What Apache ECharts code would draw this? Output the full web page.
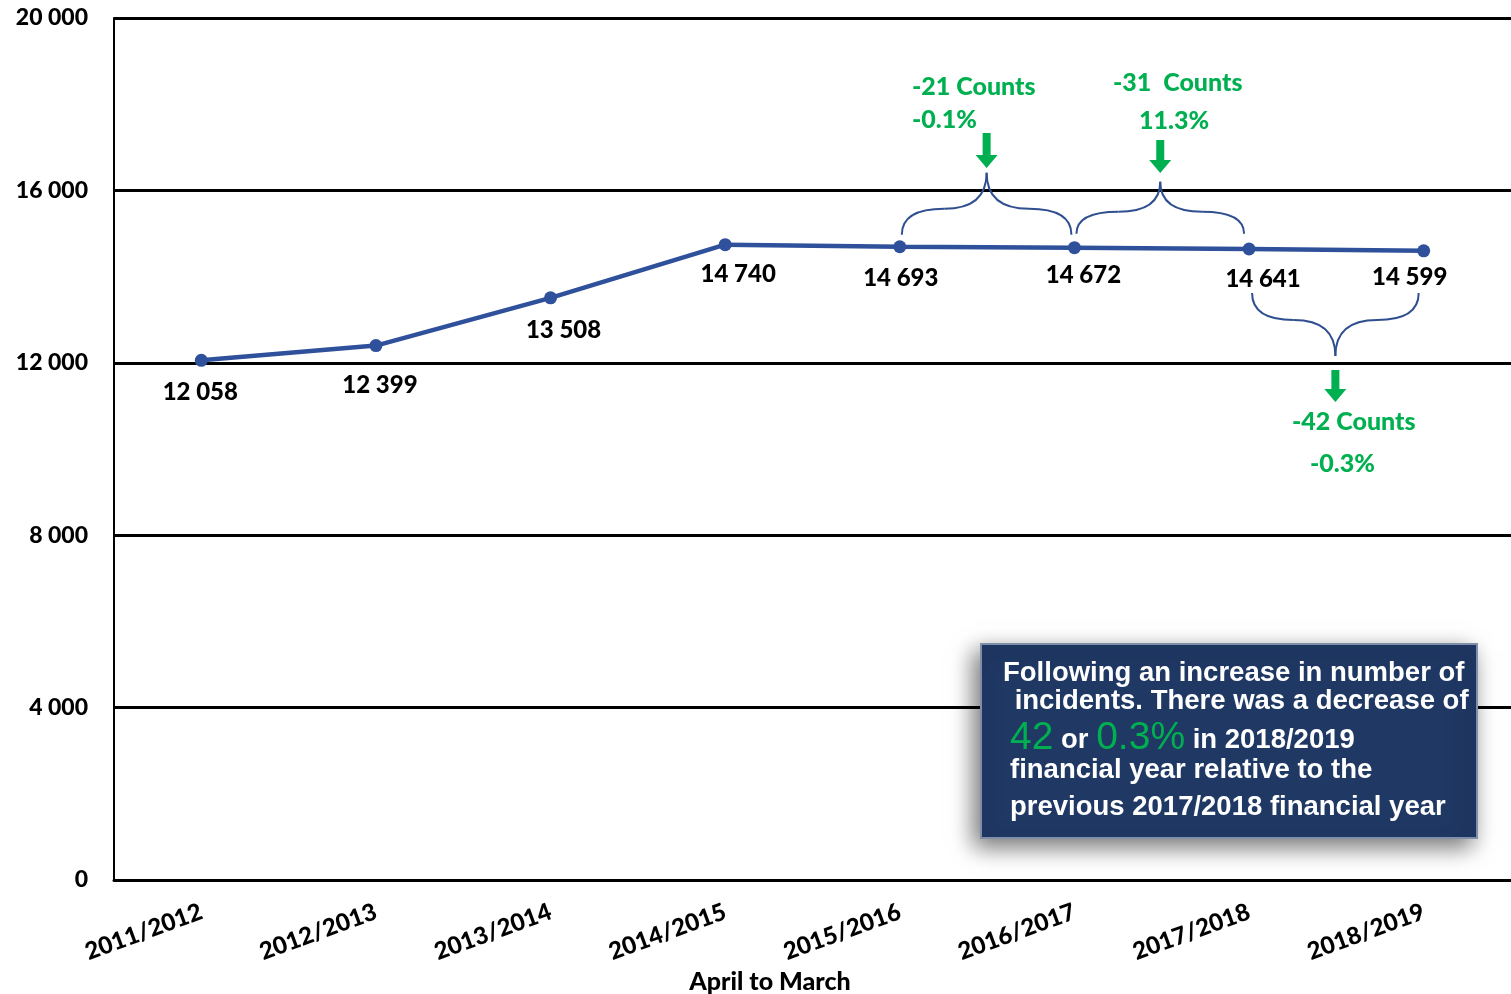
<!DOCTYPE html>
<html><head><meta charset="utf-8">
<script src="https://cdn.jsdelivr.net/npm/echarts@6/dist/echarts.min.js"></script>
<style>html,body{margin:0;padding:0;background:#fff}#c{width:1511px;height:994px}</style>
</head><body><div id="c"></div>
<script>
const categories = ['2011/2012','2012/2013','2013/2014','2014/2015','2015/2016','2016/2017','2017/2018','2018/2019'];
const incidents = [12058, 12399, 13508, 14740, 14693, 14672, 14641, 14599];
const yTicks = { min: 0, max: 20000, interval: 4000 };
const changeNotes = [
  { from: 4, to: 5, counts: '-21 Counts', pct: '-0.1%' },
  { from: 5, to: 6, counts: '-31  Counts', pct: '11.3%' },
  { from: 6, to: 7, counts: '-42 Counts', pct: '-0.3%' }
];
const calloutLines = [
  'Following an increase in number of',
  ' incidents. There was a decrease of',
  ['42', ' or ', '0.3%', ' in 2018/2019'],
  'financial year relative to the',
  'previous 2017/2018 financial year'
];
const xAxisTitle = 'April to March';

const fmt = v => String(v).replace(/\B(?=(\d{3})+(?!\d))/g, ' ');
const labelOffsets = [[-1,32],[4,40],[13,32],[13,30],[1,32],[9,28],[14,30],[-14,26]];
const LINE = '#2F509B', GREEN = '#00B050', FONT = 'Lato', FW = 900;
const CF = 'Liberation Sans';

const chart = echarts.init(document.getElementById('c'));
chart.setOption({
  animation: false,
  grid: { left: 114, right: 0, top: 18, bottom: 114, containLabel: false },
  xAxis: {
    type: 'category', data: categories, boundaryGap: true,
    axisLine: { lineStyle: { color: '#000', width: 3 } },
    axisTick: { show: false },
    axisLabel: { rotate: 20, margin: 31, color: '#000', fontFamily: FONT, fontWeight: FW, fontSize: 24 }
  },
  yAxis: {
    type: 'value', min: yTicks.min, max: yTicks.max, interval: yTicks.interval,
    axisLine: { show: true, lineStyle: { color: '#000', width: 2 } },
    axisTick: { show: false },
    splitLine: { lineStyle: { color: '#000', width: 3 } },
    axisLabel: { margin: 26, color: '#000', fontFamily: FONT, fontWeight: FW, fontSize: 23, formatter: fmt }
  },
  series: [{
    type: 'line', data: incidents.map((v, i) => ({ value: v, label: { offset: labelOffsets[i] } })),
    symbol: 'circle', symbolSize: 13,
    lineStyle: { color: LINE, width: 4.5 },
    itemStyle: { color: LINE },
    label: { show: true, position: 'inside', align: 'center', verticalAlign: 'middle',
      color: '#000', fontFamily: FONT, fontWeight: FW, fontSize: 24, formatter: p => fmt(p.value) },
    z: 3
  }]
});

function draw() {
  const P = incidents.map((v, i) => chart.convertToPixel({ gridIndex: 0 }, [i, v]));
  const g = [];
  const bs = { fill: null, stroke: '#2F4F8F', lineWidth: 2 };
  function q(x1, y1, cx, cy, x2, y2) {
    g.push({ type: 'bezierCurve', shape: { x1, y1, cpx1: cx, cpy1: cy, x2, y2 }, style: bs, z: 5 });
  }
  function brace(xa, xb, y0, ym, yt) {
    const xc = (xa + xb) / 2;
    q(xa, y0, xa, ym, (xa + xc) / 2, ym); q((xa + xc) / 2, ym, xc, ym, xc, yt);
    q(xb, y0, xb, ym, (xb + xc) / 2, ym); q((xb + xc) / 2, ym, xc, ym, xc, yt);
    return xc;
  }
  function arrow(x, yTop, yBot) {
    g.push({ type: 'polygon', shape: { points: [[x-4,yTop],[x+4,yTop],[x+4,yBot-13],[x+11,yBot-13],[x,yBot],[x-11,yBot-13],[x-4,yBot-13]] },
      style: { fill: GREEN }, z: 6 });
  }
  function gtext(x, y, t) {
    g.push({ type: 'text', x, y, style: { text: t, fill: GREEN, fontFamily: FONT, fontWeight: FW, fontSize: 25, align: 'left', verticalAlign: 'middle' }, z: 6 });
  }
  let a = P[changeNotes[0].from], b = P[changeNotes[0].to];
  let xc = brace(a[0] + 2, b[0] - 3, a[1] - 12, a[1] - 38, a[1] - 74);
  arrow(xc, 133, 168);
  gtext(912, 87, changeNotes[0].counts); gtext(912, 120, changeNotes[0].pct);
  a = P[changeNotes[1].from]; b = P[changeNotes[1].to];
  xc = brace(a[0] + 2, b[0] - 5, a[1] - 14, a[1] - 36, a[1] - 66);
  arrow(xc, 140, 173);
  gtext(1113, 83, changeNotes[1].counts); gtext(1139, 121, changeNotes[1].pct);
  a = P[changeNotes[2].from]; b = P[changeNotes[2].to];
  xc = brace(a[0] + 3, b[0] - 5, a[1] + 44, a[1] + 71, a[1] + 107);
  arrow(xc, 370, 402);
  gtext(1292, 422, changeNotes[2].counts); gtext(1310, 464, changeNotes[2].pct);
  g.push({ type: 'text', x: 770, y: 982, style: { text: xAxisTitle, fill: '#000', fontFamily: FONT, fontWeight: FW, fontSize: 25, align: 'center', verticalAlign: 'middle' }, z: 6 });
  g.push({ type: 'rect', shape: { x: 981, y: 644, width: 496, height: 194 },
    style: { fill: '#1F3864', stroke: '#7F8FA9', lineWidth: 2, shadowBlur: 22, shadowColor: 'rgba(0,0,0,0.55)', shadowOffsetX: -6, shadowOffsetY: 8 }, z: 7 });
  const ys = [673, 701, 738, 770, 807], xs = [1003, 1007, 1010, 1010, 1010];
  calloutLines.forEach((ln, i) => {
    if (Array.isArray(ln)) {
      g.push({ type: 'text', x: xs[i], y: ys[i], z: 8, style: {
        text: `{g|${ln[0]}}{w|${ln[1]}}{g|${ln[2]}}{w|${ln[3]}}`, verticalAlign: 'middle',
        rich: {
          g: { fill: GREEN, fontFamily: CF, fontSize: 39, fontWeight: 'normal', verticalAlign: 'bottom' },
          w: { fill: '#fff', fontFamily: CF, fontSize: 27.5, fontWeight: 'bold', verticalAlign: 'bottom', padding: [0,0,3,0] } } } });
    } else {
      g.push({ type: 'text', x: xs[i], y: ys[i], z: 8, style: { text: ln, fill: '#fff', fontFamily: CF, fontWeight: 'bold', fontSize: 27.5, verticalAlign: 'middle' } });
    }
  });
  chart.setOption({ graphic: { elements: g } });
}
draw();
</script></body></html>
